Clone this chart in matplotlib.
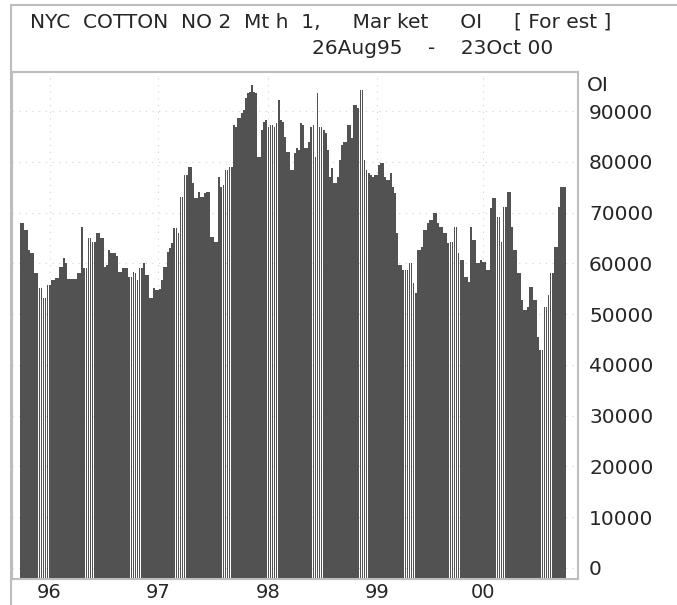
import numpy as np
import matplotlib
matplotlib.use("Agg")
import matplotlib.pyplot as plt
from matplotlib.lines import Line2D

# Data: weekly market open interest, 26Aug95 - 23Oct00
oi = [
    67900, 67900, 66500, 66500, 62600, 62000, 62000, 58000, 58000, 55100,
    55100, 53100, 53100, 55700, 55700, 56700, 56700, 57100, 57100, 59300,
    59300, 61000, 60000, 57000, 56900, 56900, 57000, 56900, 58000, 58000,
    67100, 59000, 59000, 65000, 65000, 64200, 64200, 65900, 65900, 65000,
    65000, 59300, 59600, 62600, 62000, 62000, 62000, 61500, 58300, 58300,
    59000, 59000, 59000, 57300, 57300, 58300, 58000, 56700, 59000, 59000,
    60000, 57700, 57700, 53100, 53100, 55100, 54700, 54700, 55000, 56700,
    59300, 59300, 62200, 63000, 64000, 66900, 66900, 65900, 73000, 73000,
    77400, 77400, 79000, 79000, 75800, 72800, 72800, 74000, 73000, 73000,
    73800, 74000, 74000, 65200, 65200, 64200, 64200, 77000, 75000, 75400,
    78300, 78300, 79000, 79000, 87200, 86800, 88600, 88600, 89600, 90200,
    92500, 93500, 93700, 95100, 93700, 93500, 80900, 80900, 86200, 87800,
    88200, 86800, 87200, 87200, 86800, 87600, 92100, 88200, 87800, 84800,
    81900, 81900, 78300, 78300, 81700, 82700, 82300, 87600, 87200, 82700,
    82700, 83900, 86800, 87200, 80900, 93500, 86800, 86800, 86200, 85600,
    82300, 77000, 78700, 75800, 75800, 77000, 80300, 83300, 83900, 83900,
    87200, 87200, 84600, 91100, 91100, 90700, 94100, 94100, 80300, 78300,
    77800, 77400, 77000, 77400, 77400, 79300, 79700, 79700, 77000, 76400,
    76400, 77800, 75000, 73800, 65900, 59600, 59600, 58700, 58700, 58700,
    60000, 60000, 56100, 54100, 62600, 62600, 63200, 66500, 66500, 67900,
    68500, 68500, 69900, 69900, 67900, 67100, 67100, 65900, 65900, 64000,
    64200, 64200, 67100, 67100, 62000, 60600, 60600, 57300, 57300, 56300,
    67100, 64600, 64600, 60000, 60000, 60600, 60200, 60200, 58700, 58700,
    70900, 72800, 72800, 69100, 69100, 64200, 71100, 71100, 74000, 74000,
    67100, 62600, 62600, 58100, 58100, 52800, 50800, 50800, 51400, 55300,
    55300, 52800, 52800, 45500, 42900, 42900, 51400, 51400, 53700, 58100,
    58100, 63200, 63200, 71100, 75000, 75000, 75000,
]
year_labels = ["96", "97", "98", "99", "00"]
year_pos = [14, 67, 121, 174, 226]
y_ticks = [0, 10000, 20000, 30000, 40000, 50000, 60000, 70000, 80000, 90000]

plt.rcParams['font.family'] = ['DejaVu Sans']
txt_col = '#262626'
frame_col = '#bdbdbd'

fig = plt.figure(figsize=(6.77, 6.05), dpi=100)
ax = fig.add_axes([12/677, 1 - 579/605, (578 - 12)/677, (579 - 72)/605])

ymin, ymax = -2200, 97700
x = np.arange(len(oi))
vals = np.array(oi)
ax.bar(x, vals - ymin, bottom=ymin, width=0.88, color='#525252',
       edgecolor='none', zorder=2)

ax.set_xlim(-4.4, 272.4)
ax.set_ylim(ymin, ymax)

ax.yaxis.tick_right()
ax.set_yticks(y_ticks)
ax.set_yticklabels([str(v) for v in y_ticks], fontsize=14.5)
ax.set_xticks(year_pos)
ax.set_xticklabels(year_labels, fontsize=14)
ax.tick_params(axis='y', length=0, pad=8, colors=txt_col)
ax.tick_params(axis='x', length=0, pad=3, colors=txt_col)

ax.grid(True, color='#d2d2d2', linestyle=(0, (1, 5)), linewidth=0.8)
ax.set_axisbelow(True)
for s in ax.spines.values():
    s.set_color(frame_col)
    s.set_linewidth(1.5)

ax.text(1.016, 95000, "OI", transform=ax.get_yaxis_transform(),
        fontsize=14.5, va='center', ha='left', color=txt_col)

# outer title frame
fig.add_artist(Line2D([11/677, 11/677], [1 - 5/605, 0], color=frame_col,
                      linewidth=1.5))
fig.add_artist(Line2D([11/677, 1], [1 - 5/605, 1 - 5/605], color=frame_col,
                      linewidth=1.5))

fig.text(30/677, 1 - 22/605,
         "NYC  COTTON  NO 2  Mt h  1,     Mar ket     OI     [ For est ]",
         fontsize=14.5, ha='left', va='center', color=txt_col)
fig.text(312/677, 1 - 48/605, "26Aug95    -    23Oct 00",
         fontsize=14.5, ha='left', va='center', color=txt_col)

fig.savefig("out.png", dpi=100)
